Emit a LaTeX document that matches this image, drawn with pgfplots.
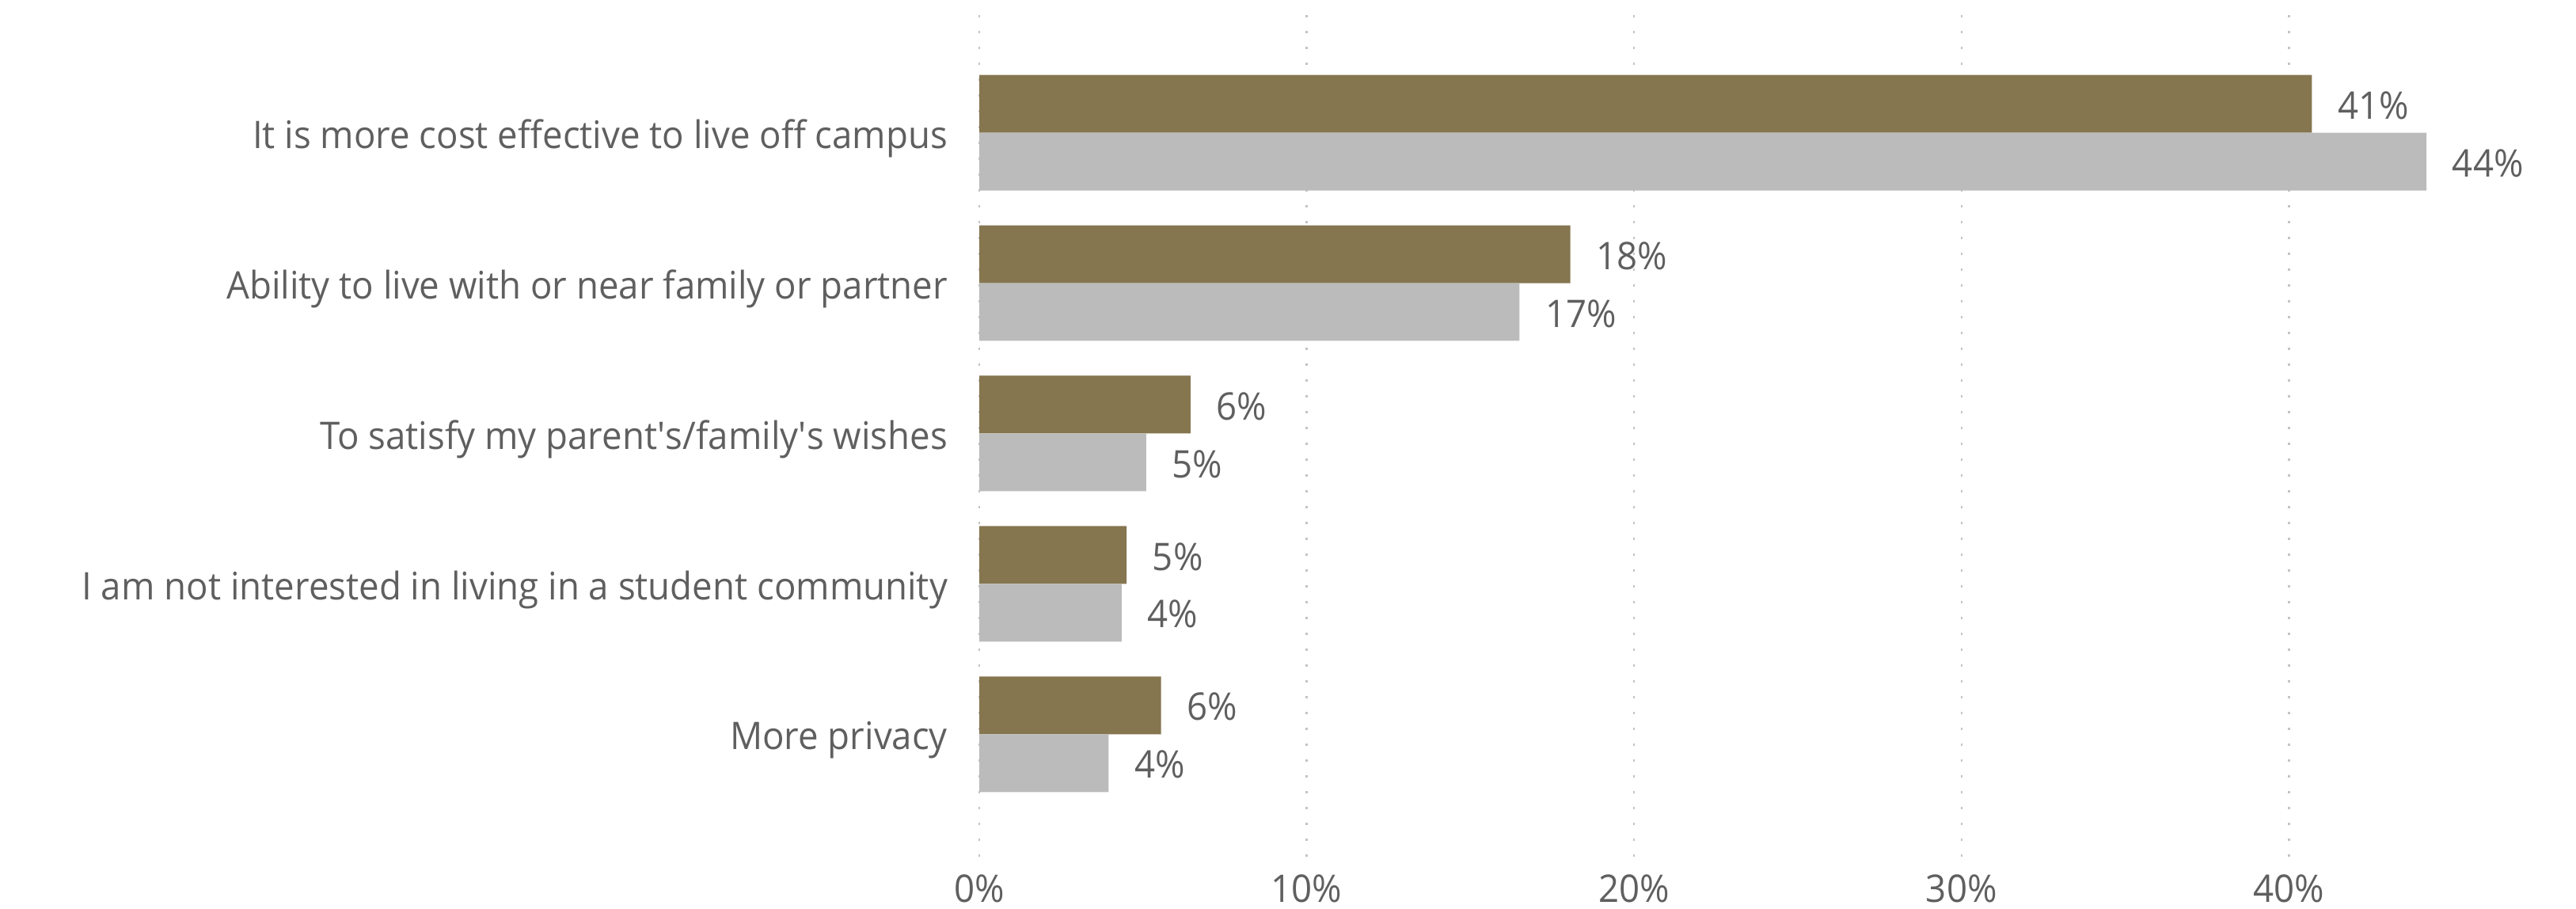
\documentclass[border=0pt]{standalone}
\usepackage{pgfplots}
\pgfplotsset{compat=1.18}
\usepackage{fontspec}
\setmainfont{Open Sans}[FakeStretch=0.95]
\definecolor{olivebar}{HTML}{857650}
\definecolor{graybar}{HTML}{BBBBBB}
\definecolor{txt}{HTML}{5F5F5F}
\definecolor{gridc}{HTML}{C4C4C4}
\newcommand{\lbl}{\fontsize{12}{14}\selectfont}
\begin{document}
\begin{tikzpicture}
\begin{axis}[
  at={(309.25pt,-270.75pt)}, anchor=south west,
  scale only axis, width=485.98pt, height=265.9pt,
  xmin=0, xmax=47, ymin=-0.78, ymax=4.82, y dir=reverse,
  axis line style={draw=none}, tick style={draw=none},
  major tick length=0pt,
  xtick={0,10,20,30,40},
  xticklabels={0\%,10\%,20\%,30\%,40\%},
  ytick={0,1,2,3,4},
  yticklabels={It is more cost effective to live off campus,
    Ability to live with or near family or partner,
    To satisfy my parent\textquotesingle s/family\textquotesingle s wishes,
    I am not interested in living in a student community,
    More privacy},
  xmajorgrids,
  major grid style={gridc, line width=0.6pt, dash pattern=on 0.6pt off 4.4pt},
  xticklabel style={font=\lbl, text=txt, anchor=north, inner sep=0pt, yshift=-5.2pt},
  yticklabel style={font=\lbl, text=txt, anchor=east, inner sep=0pt, xshift=-9.8pt, yshift=-1.8pt},
  clip=false,
  nodes near coords,
  point meta=explicit symbolic,
  every node near coord/.style={font=\lbl, text=txt, anchor=west, inner sep=0pt, xshift=8pt, yshift=-0.5pt},
]
\addplot[xbar, bar width=0.3842, bar shift=0pt, fill=olivebar, draw=none]
  coordinates {(40.7,-0.1921) [41\%] (18.05,0.8079) [18\%] (6.45,1.8079) [6\%] (4.5,2.8079) [5\%] (5.55,3.8079) [6\%]};
\addplot[xbar, bar width=0.3842, bar shift=0pt, fill=graybar, draw=none]
  coordinates {(44.2,0.1921) [44\%] (16.5,1.1921) [17\%] (5.1,2.1921) [5\%] (4.35,3.1921) [4\%] (3.95,4.1921) [4\%]};
\end{axis}
\pgfresetboundingbox
\path[use as bounding box] (0,0) rectangle (813.5pt,-286.75pt);
\end{tikzpicture}
\end{document}
